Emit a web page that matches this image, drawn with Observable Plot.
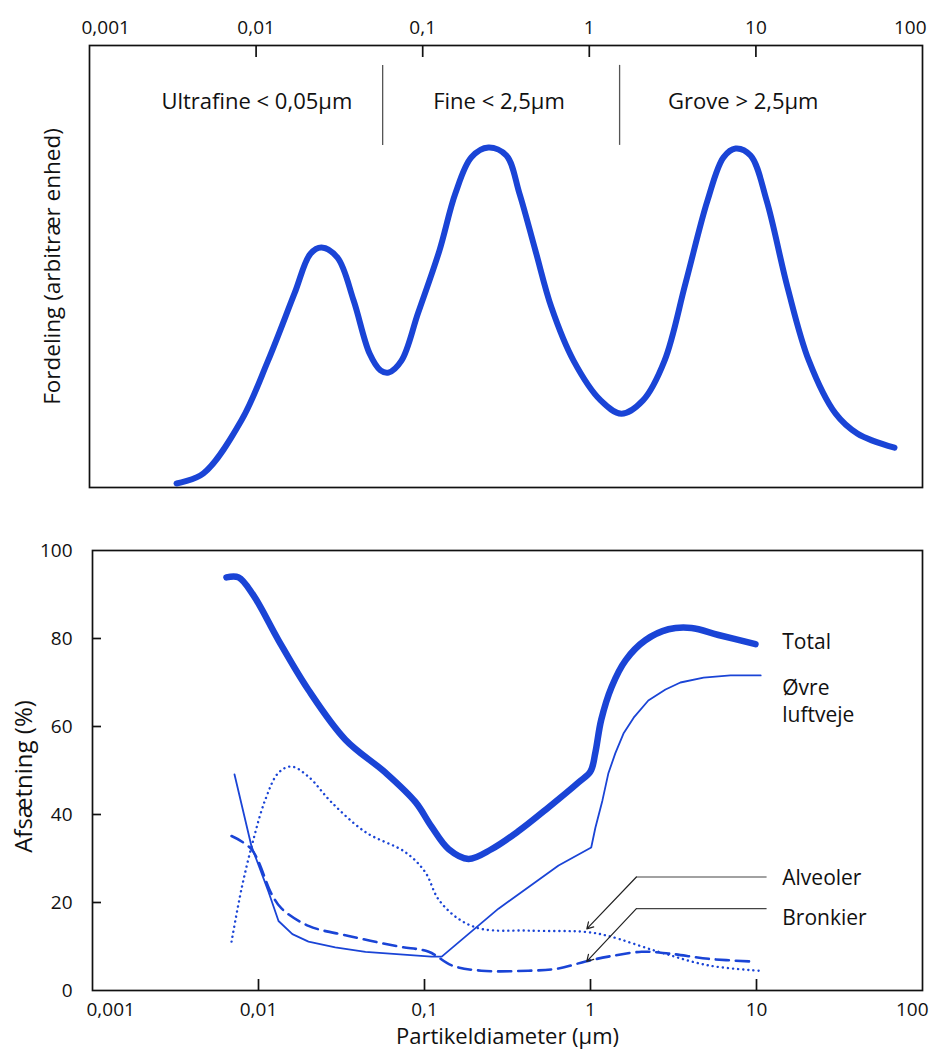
<!DOCTYPE html>
<html>
<head>
<meta charset="utf-8">
<script src="https://cdn.jsdelivr.net/npm/d3@7"></script>
<script src="https://cdn.jsdelivr.net/npm/@observablehq/plot@0.6"></script>
<style>
  body { margin: 0; background: #fff; }
  #chart { width: 933px; }
  #chart svg { display: block; }
</style>
</head>
<body>
<div id="chart"></div>
<script>
// ---------- shared axis data ----------
const xTicks = [0.001, 0.01, 0.1, 1, 10, 100];
const xTickLabels = ["0,001", "0,01", "0,1", "1", "10", "100"];
const xInnerTicks = [0.01, 0.1, 1, 10];
const yTicks = [0, 20, 40, 60, 80, 100];
const yInnerTicks = [20, 40, 60, 80];

// ---------- top panel: size distribution ----------
const distX = [0.00333, 0.00483, 0.00817, 0.0118, 0.0170, 0.0212, 0.0247, 0.0308, 0.0385, 0.0480, 0.0558, 0.0623, 0.0746, 0.0937, 0.126, 0.157, 0.196, 0.248, 0.318, 0.381, 0.475, 0.593, 0.804, 1.17, 1.56, 2.10, 2.83, 3.78, 5.12, 6.39, 7.55, 9.29, 11.6, 15.5, 20.8, 30.1, 40.7, 67.9];
const distY = [0.9, 3.2, 15.2, 28.7, 43.9, 52.9, 54.3, 52.0, 42.3, 30.3, 26.5, 26.0, 28.7, 39.4, 53.6, 66.5, 74.7, 76.9, 75.1, 66.5, 53.6, 40.7, 28.7, 19.7, 16.7, 19.7, 28.7, 46.2, 64.9, 74.7, 76.7, 75.1, 64.9, 45.2, 28.7, 16.7, 12.2, 9.0];

const modeNames = ["Ultrafine < 0,05µm", "Fine < 2,5µm", "Grove > 2,5µm"];
const modeLabelX = [0.0101, 0.287, 8.4];
const modeLabelY = [87.3, 87.3, 87.3];
const dividerX = [0.0575, 1.52];
const dividerY1 = [95.5, 95.5];
const dividerY2 = [77.4, 77.4];

// ---------- bottom panel: deposition ----------
const totalX = [0.00641, 0.00758, 0.00933, 0.0132, 0.0200, 0.0334, 0.0582, 0.0883, 0.110, 0.140, 0.184, 0.253, 0.368, 0.558, 0.847, 1.0, 1.07, 1.16, 1.34, 1.63, 2.14, 2.95, 4.06, 5.90, 9.86];
const totalY = [93.9, 93.9, 89.8, 79.6, 68.3, 57.0, 49.5, 42.8, 37.3, 32.1, 29.9, 32.1, 36.2, 41.6, 47.3, 49.8, 54.1, 61.5, 69.0, 75.1, 79.6, 82.1, 82.4, 80.8, 78.7];

const ovreX = [0.00717, 0.00907, 0.0115, 0.0132, 0.0160, 0.0200, 0.0290, 0.0441, 0.110, 0.127, 0.279, 0.642, 1.01, 1.07, 1.18, 1.28, 1.41, 1.58, 1.82, 2.23, 2.83, 3.48, 4.80, 6.97, 10.6];
const ovreY = [49.1, 32.8, 22.4, 15.8, 12.8, 11.1, 9.8, 8.8, 7.7, 7.7, 18.6, 28.4, 32.5, 37.0, 43.2, 49.3, 53.9, 58.4, 62.0, 65.9, 68.4, 70.0, 71.1, 71.6, 71.6];

const alvX = [0.00688, 0.00790, 0.00933, 0.0110, 0.0132, 0.0158, 0.0200, 0.0275, 0.0441, 0.0769, 0.101, 0.121, 0.160, 0.220, 0.423, 0.933, 1.28, 2.57, 5.14, 10.3];
const alvY = [11.1, 23.1, 34.4, 43.4, 49.5, 50.9, 48.6, 42.8, 36.0, 31.4, 26.9, 20.8, 16.3, 14.0, 13.6, 13.3, 12.4, 8.8, 5.7, 4.5];

const bronX = [0.00688, 0.00907, 0.0120, 0.0138, 0.0200, 0.0349, 0.0697, 0.106, 0.146, 0.220, 0.423, 0.642, 0.933, 1.28, 2.03, 2.95, 5.14, 9.33];
const bronY = [35.1, 32.1, 21.9, 18.6, 14.7, 12.4, 10.0, 8.8, 5.7, 4.5, 4.5, 5.0, 6.6, 7.7, 8.8, 8.4, 7.2, 6.6];

const seriesLabels = ["Total", "Øvre\nluftveje", "Alveoler", "Bronkier"];
const seriesLabelX = [14.3, 14.3, 14.3, 14.3];
const seriesLabelY = [79.6, 66.0, 26.0, 16.9];

// leader lines for Alveoler / Bronkier
const leaderX1 = [11.5, 11.5];
const leaderXBend = [1.89, 1.89];
const leaderY = [25.8, 18.6];
const leaderTipX = [0.95, 0.95];
const leaderTipY = [14.0, 6.6];

// ---------- styling ----------
const BLUE = "#1a44d6";
const INK = "#111";
const FONT = "'Open Sans', 'Noto Sans', sans-serif";
const zip2 = (xs, ys) => xs.map((x, i) => ({x, y: ys[i]}));
const tickTable = xTicks.map((v, i) => ({v, label: xTickLabels[i], i}));
const midTicks = tickTable.filter(d => d.i > 0 && d.i < xTicks.length - 1);
const firstTick = tickTable.filter(d => d.i === 0);
const lastTick = tickTable.filter(d => d.i === xTicks.length - 1);
const TICKFS = 19;

// ---------- top plot ----------
const topPlot = Plot.plot({
  width: 933, height: 500,
  marginLeft: 89, marginRight: 11, marginTop: 45, marginBottom: 13,
  x: {type: "log", domain: [0.001, 100], axis: null},
  y: {domain: [0, 100], axis: null},
  style: {fontFamily: FONT, background: "#fff", color: INK, overflow: "visible"},
  marks: [
    Plot.frame({stroke: INK, strokeWidth: 1.7}),
    Plot.ruleX(xInnerTicks, {x: d => d, y1: 100, y2: 100 - 12 / 4.42, stroke: INK, strokeWidth: 1.7}),
    Plot.text(midTicks, {x: "v", text: "label", frameAnchor: "top", lineAnchor: "middle", dy: -18, fontSize: TICKFS, fill: INK}),
    Plot.text(firstTick, {x: "v", text: "label", frameAnchor: "top", lineAnchor: "middle", dy: -18, dx: -8, textAnchor: "start", fontSize: TICKFS, fill: INK}),
    Plot.text(lastTick, {x: "v", text: "label", frameAnchor: "top", lineAnchor: "middle", dy: -18, dx: 4, textAnchor: "end", fontSize: TICKFS, fill: INK}),
    Plot.text(["Fordeling (arbitrær enhed)"], {frameAnchor: "left", textAnchor: "middle", lineAnchor: "middle", dx: -37, rotate: -90, fontSize: 22.5, fill: INK}),
    Plot.ruleX(dividerX.map((x, i) => ({x, y1: dividerY1[i], y2: dividerY2[i]})), {x: "x", y1: "y1", y2: "y2", stroke: "#555", strokeWidth: 1.3}),
    Plot.text(modeNames.map((t, i) => ({t, x: modeLabelX[i], y: modeLabelY[i]})), {x: "x", y: "y", text: "t", fontSize: 22, fill: INK}),
    Plot.line(zip2(distX, distY), {x: "x", y: "y", curve: "catmull-rom", stroke: BLUE, strokeWidth: 6, strokeLinecap: "round", strokeLinejoin: "round"})
  ]
});

// ---------- bottom plot ----------
const botPlot = Plot.plot({
  width: 933, height: 552,
  marginLeft: 92, marginRight: 11, marginTop: 50, marginBottom: 62,
  x: {type: "log", domain: [0.001, 100], axis: null},
  y: {domain: [0, 100], axis: null},
  style: {fontFamily: FONT, background: "#fff", color: INK, overflow: "visible"},
  marks: [
    Plot.frame({stroke: INK, strokeWidth: 1.7}),
    Plot.ruleX(xInnerTicks, {x: d => d, y1: 0, y2: 11 / 4.4, stroke: INK, strokeWidth: 1.7}),
    Plot.ruleY(yInnerTicks, {y: d => d, x1: 0.001, x2: Math.pow(10, -3 + 9 / 166), stroke: INK, strokeWidth: 1.7}),
    Plot.text(yTicks, {y: d => d, text: d => String(d), frameAnchor: "left", lineAnchor: "middle", dx: -20, textAnchor: "end", fontSize: TICKFS, fill: INK}),
    Plot.text(midTicks, {x: "v", text: "label", frameAnchor: "bottom", lineAnchor: "middle", dy: 19, fontSize: TICKFS, fill: INK}),
    Plot.text(firstTick, {x: "v", text: "label", frameAnchor: "bottom", lineAnchor: "middle", dy: 19, dx: -6, textAnchor: "start", fontSize: TICKFS, fill: INK}),
    Plot.text(lastTick, {x: "v", text: "label", frameAnchor: "bottom", lineAnchor: "middle", dy: 19, dx: 6, textAnchor: "end", fontSize: TICKFS, fill: INK}),
    Plot.text(["Partikeldiameter (µm)"], {frameAnchor: "bottom", lineAnchor: "middle", dy: 46, fontSize: 22, fill: INK}),
    Plot.text(["Afsætning (%)"], {frameAnchor: "left", textAnchor: "middle", lineAnchor: "middle", dx: -68, dy: 6, rotate: -90, fontSize: 24, fill: INK}),
    // curves
    Plot.line(zip2(alvX, alvY), {x: "x", y: "y", curve: "catmull-rom", stroke: BLUE, strokeWidth: 2.4, strokeDasharray: "0.1 5", strokeLinecap: "round"}),
    Plot.line(zip2(bronX, bronY), {x: "x", y: "y", curve: "catmull-rom", stroke: BLUE, strokeWidth: 2.6, strokeDasharray: "13 7"}),
    Plot.line(zip2(ovreX, ovreY), {x: "x", y: "y", curve: "linear", stroke: BLUE, strokeWidth: 1.8, strokeLinejoin: "round"}),
    Plot.line(zip2(totalX, totalY), {x: "x", y: "y", curve: "catmull-rom", stroke: BLUE, strokeWidth: 6.5, strokeLinecap: "round", strokeLinejoin: "round"}),
    // leader lines
    Plot.link(leaderY.map((y, i) => ({x1: leaderX1[i], x2: leaderXBend[i], y})), {x1: "x1", x2: "x2", y1: "y", y2: "y", stroke: "#444", strokeWidth: 1.2}),
    Plot.arrow(leaderY.map((y, i) => ({x1: leaderXBend[i], y1: y, x2: leaderTipX[i], y2: leaderTipY[i]})), {x1: "x1", y1: "y1", x2: "x2", y2: "y2", stroke: "#222", strokeWidth: 1.2, headLength: 9}),
    // series labels
    Plot.text(seriesLabels.map((t, i) => ({t, x: seriesLabelX[i], y: seriesLabelY[i]})), {x: "x", y: "y", text: "t", textAnchor: "start", lineAnchor: "middle", lineHeight: 1.3, fontSize: 21, fill: INK})
  ]
});

document.getElementById("chart").append(topPlot, botPlot);
</script>
</body>
</html>
